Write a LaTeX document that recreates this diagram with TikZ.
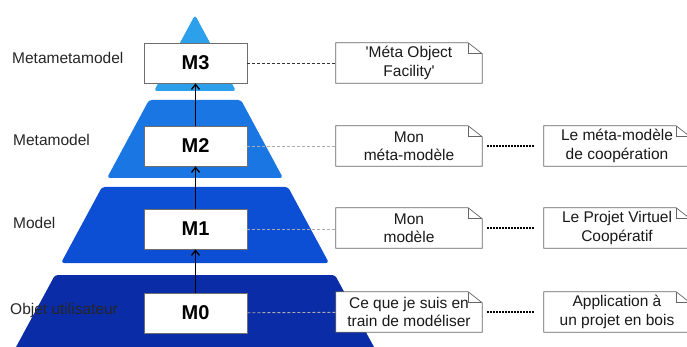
\documentclass[tikz,border=0pt]{standalone}
\usepackage{fontspec}
\setsansfont{Liberation Sans}
\usetikzlibrary{arrows.meta, calc}
\definecolor{tiertop}{RGB}{44, 160, 234}
\definecolor{tiermeta}{RGB}{26, 118, 226}
\definecolor{tiermodel}{RGB}{12, 78, 212}
\definecolor{tierobject}{RGB}{10, 44, 166}
\definecolor{boxborder}{RGB}{110, 110, 110}

\begin{document}
\begin{tikzpicture}[
    x=1pt, y=-1pt,
    font=\sffamily,
    >={Straight Barb[length=5pt, width=8pt]},
    % Styles definition
    tier/.style={rounded corners=3pt},
    level/.style={draw=boxborder, fill=white, line width=0.8pt, minimum width=103pt, minimum height=40pt, inner sep=0pt, font=\sffamily\bfseries\fontsize{20}{23}\selectfont},
    note/.style={fill=white, minimum width=146pt, minimum height=40pt, inner sep=2pt, align=center, font=\sffamily\fontsize{15.5}{18.5}\selectfont, text=black!90},
    notefold/.style={draw=black!60, line width=0.7pt},
    layer/.style={anchor=west, inner sep=0pt, font=\sffamily\fontsize{15.5}{18.5}\selectfont, text=black!85},
    uparrow/.style={->, line width=1.3pt},
    link/.style={draw=gray!65, line width=0.9pt, dash pattern=on 3pt off 2pt},
    trace/.style={draw=black, line width=1.5pt, dash pattern=on 1.5pt off 1.5pt, shorten <=5pt, shorten >=10pt}
]
\useasboundingbox (0,0) rectangle (687,347);

% 1. Pyramid tiers
\fill[tier, tiertop] (195,15) -- (236,91) -- (154,91) -- cycle;
\fill[tier, tiermeta] (149,100) -- (241,100) -- (283,178) -- (107,178) -- cycle;
\fill[tier, tiermodel] (102,187) -- (288,187) -- (329,263) -- (61,263) -- cycle;
\fill[tier, tierobject] (55,275) -- (335,275) -- (381,360) -- (9,360) -- cycle;

% 2. Layer names
\node[layer] (lbl3) at (12,58) {Metametamodel};
\node[layer] (lbl2) at (13,140) {Metamodel};
\node[layer] (lbl1) at (13,223) {Model};
\node[layer] (lbl0) at (10,310) {Objet utilisateur};

% 3. Levels
\node[level] (m3) at (195.5,63) {M3};
\node[level] (m2) at (195.5,146) {M2};
\node[level] (m1) at (195.5,229) {M1};
\node[level] (m0) at (195.5,313) {M0};

% 4. Notes
\node[note] (mof) at (409,63) {\textquotesingle Méta Object\\Facility\textquotesingle};
\node[note] (metamodel) at (409,146) {Mon\\méta-modèle};
\node[note] (model) at (409,228) {Mon\\modèle};
\node[note] (object) at (409,312) {Ce que je suis en\\train de modéliser};
\node[note] (coop) at (617,146) {Le méta-modèle\\de coopération};
\node[note] (projet) at (617,228) {Le Projet Virtuel\\Coopératif};
\node[note] (bois) at (617,312) {Application à\\un projet en bois};

% note outlines with folded corner
\foreach \n in {mof, metamodel, model, object, coop, projet, bois} {
    \draw[notefold] (\n.north west) -- ($(\n.north east)+(-14,0)$) -- ($(\n.north east)+(0,11)$) -- (\n.south east) -- (\n.south west) -- cycle;
    \draw[notefold] ($(\n.north east)+(-14,0)$) |- ($(\n.north east)+(0,11)$);
}

% --- Routing / Arrows ---
\draw[uparrow] (m0) -- (m1);
\draw[uparrow] (m1) -- (m2);
\draw[uparrow] (m2) -- (m3);

\draw[link, draw=black!80] (m3) -- (mof);
\draw[link] (m2) -- (metamodel);
\draw[link] (m1.east) -- (model.west |- m1.east);
\draw[link] (m0) -- (object);

\draw[trace] (metamodel) -- (coop);
\draw[trace] (model) -- (projet);
\draw[trace] (object) -- (bois);

\end{tikzpicture}
\end{document}
